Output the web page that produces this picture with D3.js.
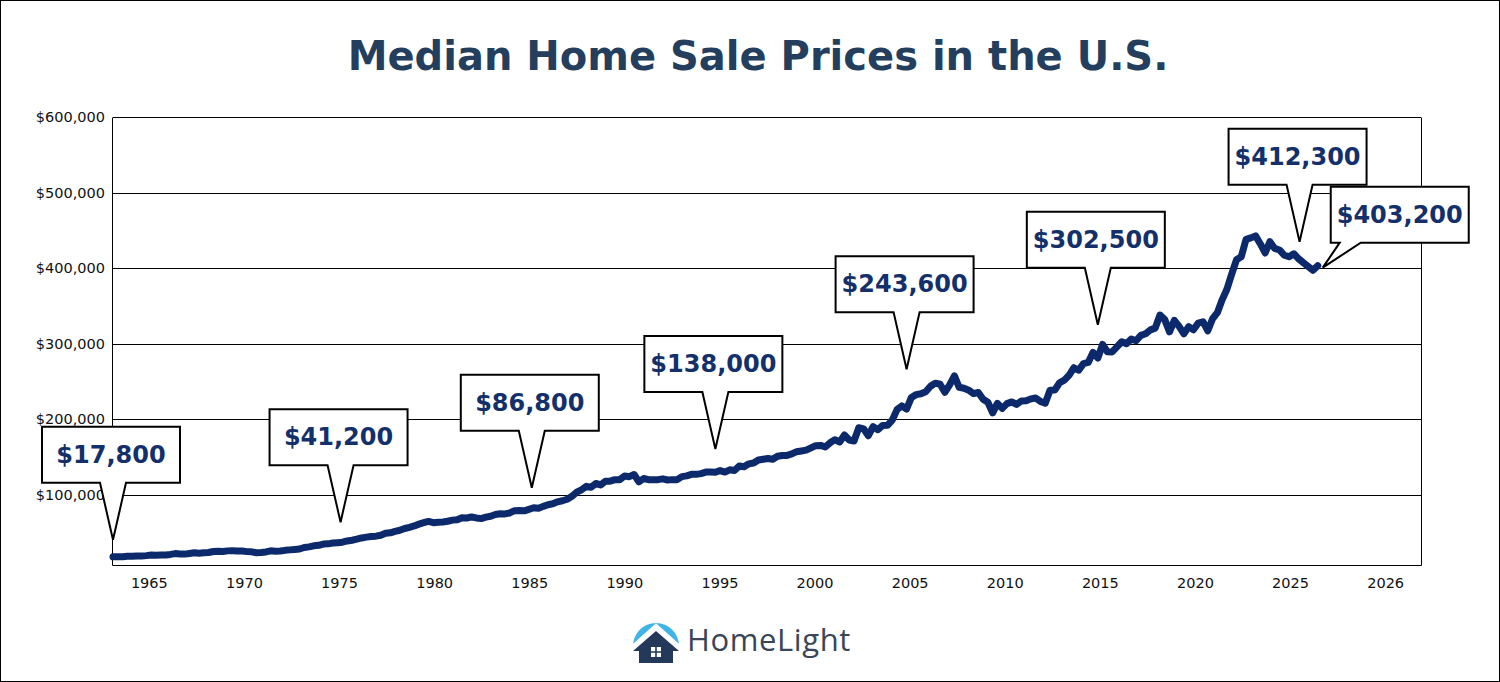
<!DOCTYPE html>
<html><head><meta charset="utf-8">
<script src="https://cdn.jsdelivr.net/npm/d3@7"></script>
<style>
html,body{margin:0;padding:0;background:#fff;}
svg{display:block;}
</style></head>
<body>
<svg id="chart" width="1500" height="682"></svg>
<script>
// ---------------- DATA ----------------
const titleText = "Median Home Sale Prices in the U.S.";
const startYear = 1963; // first quarter of the series (1963 Q1)

// Quarterly median sale price, thousands of dollars (1963 Q1 ... 2026 Q1)
const quarterlyPriceK = [
  17.8, 18.0, 17.9, 18.5,      // 1963
  18.5, 18.9, 18.9, 19.4,      // 1964
  20.2, 19.8, 20.2, 20.3,      // 1965
  21.0, 22.1, 21.5, 21.4,      // 1966
  22.3, 23.3, 22.5, 23.1,      // 1967
  23.5, 24.9, 25.2, 25.0,      // 1968
  25.7, 26.0, 25.4, 25.4,      // 1969
  24.7, 24.4, 23.3, 23.6,      // 1970
  24.3, 25.8, 25.3, 25.5,      // 1971
  26.4, 27.0, 27.6, 28.2,      // 1972
  30.2, 31.0, 32.4, 33.0,      // 1973
  34.7, 35.0, 36.1, 36.6,      // 1974
  37.2, 38.8, 39.8, 41.2,      // 1975
  42.8, 43.9, 44.8, 45.2,      // 1976
  46.3, 48.9, 49.6, 51.6,      // 1977
  53.0, 55.3, 56.8, 58.7,      // 1978
  61.1, 63.0, 64.7, 63.0,      // 1979
  63.7, 64.0, 64.9, 66.4,      // 1980
  66.8, 69.5, 69.2, 70.6,      // 1981
  69.3, 68.4, 70.4, 71.6,      // 1982
  73.9, 74.8, 74.6, 75.9,      // 1983
  78.9, 79.2, 78.7, 80.7,      // 1984
  82.8, 82.0, 84.6, 86.8,      // 1985
  88.0, 90.6, 92.0, 94.0,      // 1986
  97.9, 103.4, 106.6, 111.1,   // 1987
  110.0, 115.0, 113.0, 118.0,  // 1988
  118.0, 120.0, 120.0, 124.8,  // 1989
  123.9, 126.8, 117.0, 121.5,  // 1990
  120.0, 119.9, 120.0, 121.0,  // 1991
  119.5, 120.0, 120.0, 124.0,  // 1992
  125.0, 127.0, 127.0, 128.0,  // 1993
  130.0, 130.0, 129.7, 132.0,  // 1994
  130.0, 133.0, 132.0, 138.0,  // 1995
  137.0, 140.9, 142.0, 146.0,  // 1996
  147.0, 147.9, 147.0, 151.0,  // 1997
  152.0, 152.0, 154.0, 157.0,  // 1998
  158.0, 159.0, 162.0, 165.0,  // 1999
  165.3, 163.2, 168.8, 172.9,  // 2000
  169.8, 179.0, 172.5, 171.1,  // 2001
  188.7, 187.2, 178.1, 190.1,  // 2002
  186.0, 191.8, 191.9, 198.8,  // 2003
  212.7, 217.6, 213.5, 228.8,  // 2004
  232.5, 233.7, 236.4, 243.6,  // 2005
  247.7, 246.3, 235.6, 245.4,  // 2006
  257.4, 242.2, 241.0, 238.4,  // 2007
  233.9, 235.3, 226.5, 222.5,  // 2008
  208.4, 220.9, 214.3, 220.6,  // 2009
  222.9, 219.5, 224.1, 224.3,  // 2010
  226.9, 228.1, 223.5, 221.1,  // 2011
  238.4, 238.7, 248.2, 251.7,  // 2012
  258.4, 268.1, 264.8, 273.6,  // 2013
  275.2, 288.5, 281.0, 298.9,  // 2014
  289.2, 289.1, 295.8, 302.5,  // 2015
  299.8, 306.0, 303.8, 310.9,  // 2016
  313.1, 318.2, 320.5, 337.9,  // 2017
  331.8, 315.6, 330.9, 322.8,  // 2018
  313.0, 322.5, 318.4, 327.1,  // 2019
  329.0, 317.0, 333.0, 341.0,  // 2020
  358.0, 372.0, 392.0, 411.0,  // 2021
  415.0, 438.0, 440.0, 442.6,  // 2022
  432.0, 420.0, 435.0, 426.0,  // 2023
  424.0, 417.0, 415.0, 419.0,  // 2024
  412.3, 407.0, 402.0, 397.0,  // 2025
  403.2                        // 2026
];

const yTickValues = [100000, 200000, 300000, 400000, 500000, 600000];
const yAxisMin = 7000, yAxisMax = 600000;
const xAxisEndYear = 2031.4;
const xTickLabels = ["1965","1970","1975","1980","1985","1990","1995","2000","2005","2010","2015","2020","2025","2026"];

const calloutLabels = ["$17,800","$41,200","$86,800","$138,000","$243,600","$302,500","$412,300","$403,200"];
const calloutValues = [17800, 41200, 86800, 138000, 243600, 302500, 412300, 403200];
const calloutDates  = [1963, 1974.9, 1984.9, 1994.5, 2004.5, 2014.5, 2025.05, 2026.0];

// ---------------- LAYOUT ----------------
const W = 1500, H = 682;
const plot = {left: 113, right: 1421, top: 117, bottom: 565};
const lineColor = "#0c2a6b";
const labelColor = "#13306b";
const titleColor = "#243f5e";
const FONT = "'DejaVu Sans', Verdana, sans-serif";

const svg = d3.select("#chart");
svg.append("rect").attr("width", W).attr("height", H).attr("fill", "#fff");

const x = d3.scaleLinear().domain([startYear, xAxisEndYear]).range([plot.left, plot.right]);
const y = d3.scaleLinear().domain([yAxisMin, yAxisMax]).range([plot.bottom, plot.top]);
const xLabelScale = d3.scalePoint().domain(xTickLabels).range([plot.left, plot.right]).padding(0.377);

// Title
svg.append("text")
  .attr("x", 758).attr("y", 70)
  .attr("text-anchor", "middle")
  .attr("font-family", FONT).attr("font-weight", "bold").attr("font-size", 40)
  .attr("fill", titleColor)
  .text(titleText);

// Gridlines
svg.append("g").selectAll("line").data(yTickValues).join("line")
  .attr("x1", plot.left).attr("x2", plot.right)
  .attr("y1", d => Math.round(y(d)) + 0.5).attr("y2", d => Math.round(y(d)) + 0.5)
  .attr("stroke", "#000").attr("stroke-width", 1);

// Plot frame (left, right, bottom)
svg.append("path")
  .attr("d", `M${plot.left - 0.5},${plot.top + 0.5} V${plot.bottom + 0.5} H${plot.right + 0.5} V${plot.top + 0.5}`)
  .attr("fill", "none").attr("stroke", "#000").attr("stroke-width", 1);

// Y axis labels
const yAxis = d3.axisLeft(y).tickValues(yTickValues).tickSize(0).tickPadding(8)
  .tickFormat(d => "$" + d3.format(",")(d));
const gy = svg.append("g").attr("transform", `translate(${plot.left},0)`).call(yAxis);
gy.select(".domain").remove();
gy.selectAll("text").attr("font-family", FONT).attr("font-size", 14.5).attr("fill", "#111");

// X axis labels
const xAxis = d3.axisBottom(xLabelScale).tickSize(0).tickPadding(13);
const gx = svg.append("g").attr("transform", `translate(0,${plot.bottom})`).call(xAxis);
gx.select(".domain").remove();
gx.selectAll("text").attr("font-family", FONT).attr("font-size", 14.5).attr("fill", "#111");

// Price line
const series = quarterlyPriceK.map((v, i) => ({date: startYear + i / 4, value: v * 1000}));
const line = d3.line().x(d => x(d.date)).y(d => y(d.value));
svg.append("path")
  .datum(series)
  .attr("d", line)
  .attr("fill", "none")
  .attr("stroke", lineColor)
  .attr("stroke-width", 7)
  .attr("stroke-linejoin", "round")
  .attr("stroke-linecap", "round");

// Callouts
const boxW = 138, boxH = 56;
const callouts = calloutLabels.map((t, i) => ({label: t, value: calloutValues[i], date: calloutDates[i]}));
const cg = svg.append("g");
callouts.forEach((c, i) => {
  const last = i === callouts.length - 1;
  let tx, ty, bx, by, d;
  if (!last) {
    tx = x(c.date);
    ty = y(c.value) - 17;
    bx = tx - 2 - boxW / 2;
    by = ty - 57 - boxH;
    d = `M${bx},${by} H${bx + boxW} V${by + boxH} H${tx + 13} L${tx},${ty} L${tx - 13},${by + boxH} H${bx} Z`;
  } else {
    tx = x(c.date) + 5;
    ty = y(c.value) + 2;
    bx = tx + 8;
    by = ty - 25 - boxH;
    d = `M${bx},${by} H${bx + boxW} V${by + boxH} H${tx + 38} L${tx},${ty} L${tx + 17},${by + boxH} H${bx} Z`;
  }
  cg.append("path").attr("d", d)
    .attr("fill", "#fff").attr("stroke", "#000").attr("stroke-width", 2)
    .attr("stroke-linejoin", "miter");
  cg.append("text")
    .attr("x", bx + boxW / 2).attr("y", by + 36)
    .attr("text-anchor", "middle")
    .attr("font-family", FONT).attr("font-weight", "bold").attr("font-size", 24)
    .attr("fill", labelColor)
    .text(c.label);
});

// Logo (HomeLight)
const logo = svg.append("g");
logo.append("path")
  .attr("d", "M633,646 A23,23 0 0 1 679,646 Z")
  .attr("fill", "#3fb4e6");
logo.append("path")
  .attr("d", "M629,652 L656,628 L683,652")
  .attr("fill", "none").attr("stroke", "#fff").attr("stroke-width", 7).attr("stroke-linejoin", "miter");
logo.append("path")
  .attr("d", "M633,651 L656,631 L679,651 L673,651 L673,663 L639,663 L639,651 Z")
  .attr("fill", "#24395a");
logo.append("rect").attr("x", 651).attr("y", 647).attr("width", 10).attr("height", 10).attr("fill", "#fff");
logo.append("path").attr("d", "M656,647 V657 M651,652 H661").attr("stroke", "#24395a").attr("stroke-width", 1.6);
logo.append("text")
  .attr("x", 687).attr("y", 651)
  .attr("font-family", "'Open Sans', Lato, sans-serif")
  .attr("font-size", 31)
  .attr("letter-spacing", 0.6)
  .attr("fill", "#3a4657")
  .text("HomeLight");

// Outer border
svg.append("rect").attr("x", 0.5).attr("y", 0.5).attr("width", W - 1).attr("height", H - 1)
  .attr("fill", "none").attr("stroke", "#000").attr("stroke-width", 1);
</script>
</body></html>
